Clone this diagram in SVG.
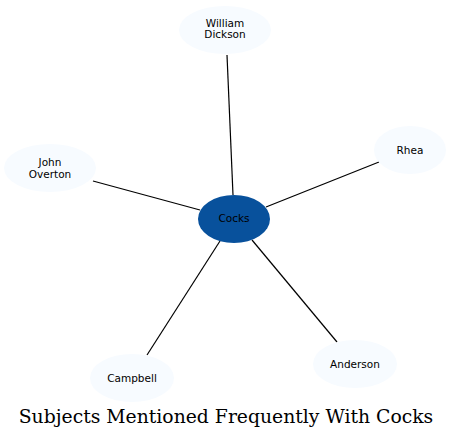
<svg xmlns="http://www.w3.org/2000/svg" width="452" height="439" viewBox="0 0 452 439">
<style>
.n{fill:#f7fbff;stroke:none}
.c{fill:#08519c;stroke:none}
.t{font-family:"DejaVu Sans",sans-serif;font-size:10.5px;text-anchor:middle;fill:#000}
.e{stroke:#000;stroke-width:1.2;fill:none}
.title{font-family:"DejaVu Serif",serif;font-size:18.8px;text-anchor:middle;fill:#000}
</style>
<rect width="452" height="439" fill="#fff"/>
<g id="edges">
<line class="e" x1="233" y1="195" x2="227" y2="55"/>
<line class="e" x1="200" y1="210" x2="93" y2="181"/>
<line class="e" x1="266" y1="207" x2="379" y2="162"/>
<line class="e" x1="220" y1="241" x2="147" y2="355"/>
<line class="e" x1="252" y1="240" x2="337" y2="342"/>
</g>
<g id="william">
<ellipse class="n" cx="225" cy="30" rx="46" ry="24"/>
<text class="t" x="225" y="27">William</text>
<text class="t" x="225" y="38">Dickson</text>
</g>
<g id="overton">
<ellipse class="n" cx="50" cy="168" rx="46" ry="24"/>
<text class="t" x="50" y="166">John</text>
<text class="t" x="50" y="178">Overton</text>
</g>
<g id="rhea">
<ellipse class="n" cx="410" cy="150" rx="36" ry="24"/>
<text class="t" x="410" y="154">Rhea</text>
</g>
<g id="cocks">
<ellipse class="c" cx="234" cy="219" rx="36" ry="24"/>
<text class="t" x="234" y="222">Cocks</text>
</g>
<g id="campbell">
<ellipse class="n" cx="132" cy="378" rx="42" ry="24"/>
<text class="t" x="132" y="382">Campbell</text>
</g>
<g id="anderson">
<ellipse class="n" cx="355" cy="364" rx="42" ry="24"/>
<text class="t" x="355" y="368">Anderson</text>
</g>
<text class="title" x="226" y="423">Subjects Mentioned Frequently With Cocks</text>
</svg>
